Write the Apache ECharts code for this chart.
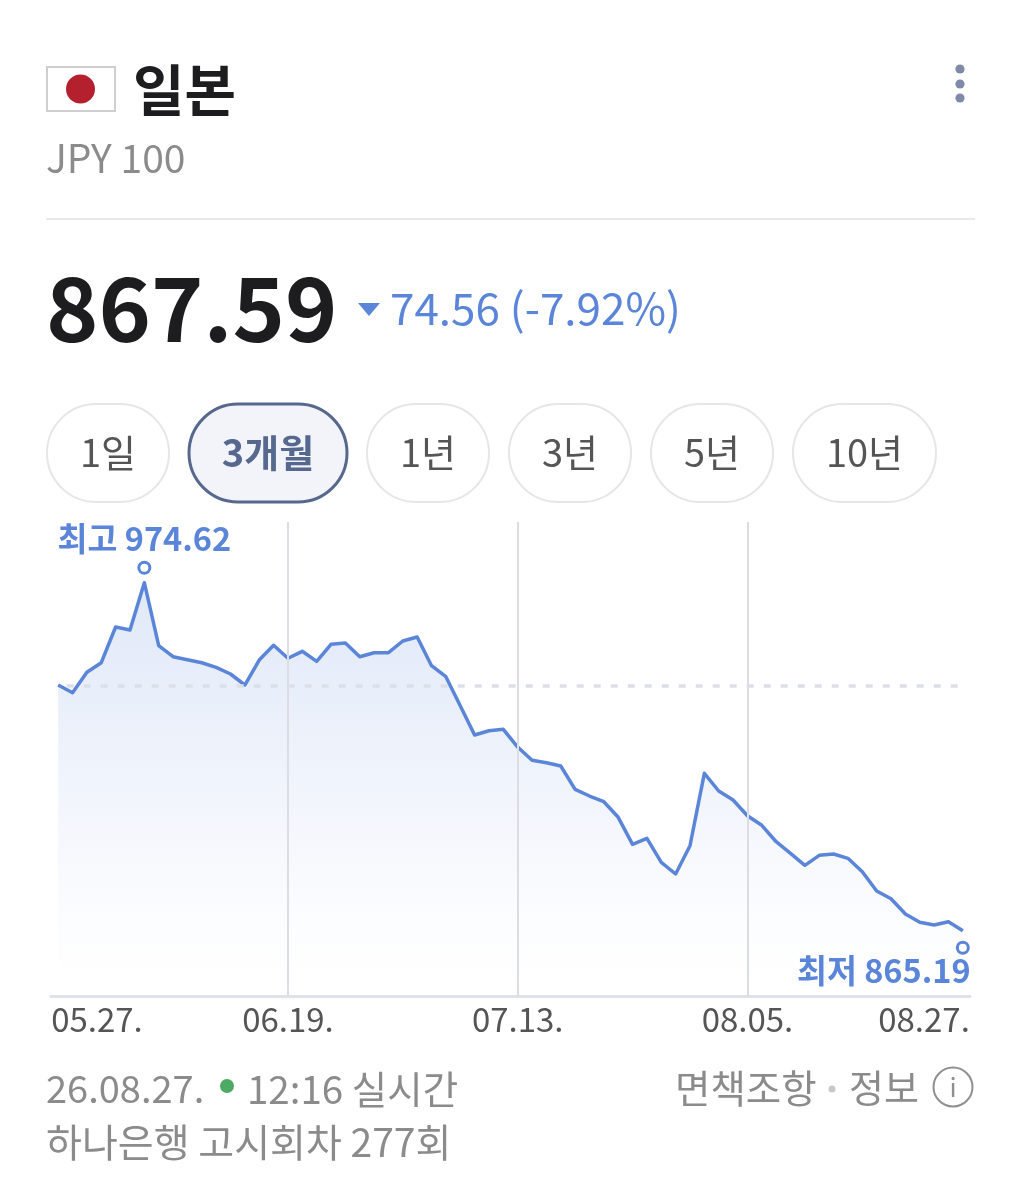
<!DOCTYPE html>
<html><head><meta charset="utf-8">
<style>html,body{margin:0;padding:0;background:#fff}#c{width:1021px;height:1200px}</style>
<script src="https://cdn.jsdelivr.net/npm/echarts@6/dist/echarts.min.js"></script>
</head><body><div id="c"></div>
<script>
const dates = ['05.27.','05.28.','05.29.','05.30.','05.31.','06.01.','06.02.','06.03.','06.04.','06.05.','06.06.','06.07.','06.08.','06.09.','06.10.','06.11.','06.19.','06.20.','06.21.','06.22.','06.23.','06.24.','06.25.','06.26.','06.27.','06.28.','06.29.','06.30.','07.01.','07.02.','07.03.','07.04.','07.13.','07.14.','07.15.','07.16.','07.17.','07.18.','07.19.','07.20.','07.21.','07.22.','07.23.','07.24.','07.25.','07.26.','07.27.','07.28.','08.05.','08.06.','08.07.','08.08.','08.09.','08.10.','08.11.','08.12.','08.13.','08.14.','08.15.','08.16.','08.17.','08.18.','08.19.','08.27.'];
const rates = [942.45,940.03,946.44,949.46,960.69,959.75,974.62,954.81,951.35,950.41,949.46,948.02,945.91,942.45,950.31,954.93,950.85,953.05,949.90,955.25,955.66,951.35,952.61,952.61,956.29,957.54,948.52,945.06,935.94,926.73,928.08,928.52,922.95,918.77,918.02,916.98,909.65,907.54,905.75,900.85,892.36,894.24,886.70,883.02,891.92,914.68,909.12,906.29,901.35,898.33,893.17,889.53,885.75,888.90,889.31,887.95,883.74,877.67,875.25,870.44,867.83,866.98,868.02,865.19];
const tickLabels = ['05.27.','06.19.','07.13.','08.05.','08.27.'];
const gridDates = ['06.19.','07.13.','08.05.'];
const previousClose = 942.15;
const highValue = 974.62, lowValue = 865.19;
const ranges = ['1일','3개월','1년','3년','5년','10년'];

const KR = '"Noto Sans CJK KR","Noto Sans",sans-serif';
const BLUE = '#5a85d8';
const GRAY = '#8b8b8b';
function txt(x,y,text,size,fill,weight,align){
  return {type:'text',x,y,style:{text,fontFamily:KR,fontSize:size,fontWeight:weight||400,fill,align:align||'left',verticalAlign:'middle'}};
}
const btnBoxes = [[46,124],[188,160],[366,124],[508,124],[650,124],[792,145]];
const graphics = [
  {type:'rect',shape:{x:47,y:67,width:68,height:44},style:{fill:'#fff',stroke:'#cfcfcf',lineWidth:2}},
  {type:'circle',shape:{cx:80.5,cy:89,r:14.5},style:{fill:'#b5202f'}},
  txt(133,90,'일본',56,'#1d1d1f',700),
  txt(46,158,'JPY 100',39,GRAY),
  {type:'circle',shape:{cx:960,cy:69,r:4.6},style:{fill:'#7f8aa8'}},
  {type:'circle',shape:{cx:960,cy:84,r:4.6},style:{fill:'#7f8aa8'}},
  {type:'circle',shape:{cx:960,cy:98,r:4.6},style:{fill:'#7f8aa8'}},
  {type:'line',shape:{x1:46,y1:219,x2:975,y2:219},style:{stroke:'#e9e9e9',lineWidth:2}},
  txt(46,308,'867.59',89,'#1d1d1f',700),
  {type:'polygon',shape:{points:[[358,303],[380,303],[369,316]]},style:{fill:BLUE}},
  txt(390,308,'74.56 (-7.92%)',44,BLUE),
  txt(46,1089,'26.08.27.',38,GRAY),
  {type:'circle',shape:{cx:227,cy:1086,r:7},style:{fill:'#4caa64'}},
  txt(247,1089,'12:16 실시간',38.5,GRAY),
  txt(46,1142,'하나은행 고시회차 277회',39,GRAY),
  txt(675,1088,'면책조항',38.5,GRAY),
  {type:'circle',shape:{cx:832,cy:1089,r:3.5},style:{fill:'#c9c9c9'}},
  txt(849,1088,'정보',38,GRAY),
  {type:'circle',shape:{cx:953,cy:1087,r:19.5},style:{fill:'#fff',stroke:'#8f8f8f',lineWidth:2}},
  txt(953,1087,'i',26,'#8f8f8f',400,'center')
];
ranges.forEach((r,i)=>{
  const [x,w]=btnBoxes[i], on=i===1;
  graphics.push({type:'rect',shape:{x:x+1,y:404,width:w-2,height:98,r:49},
    style:{fill:on?'#f2f4fa':'#fff',stroke:on?'#56688e':'#e6e6e6',lineWidth:on?3:2}});
  graphics.push(txt(x+w/2,453,r,38,on?'#56688e':'#555',on?700:400,'center'));
});

const chart = echarts.init(document.getElementById('c'),null,{renderer:'canvas',width:1021,height:1200});
chart.setOption({
  animation:false,
  backgroundColor:'#fff',
  textStyle:{fontFamily:KR},
  grid:{left:51,right:51,top:522,height:474,containLabel:false},
  xAxis:{type:'category',data:dates,boundaryGap:true,
    axisLine:{lineStyle:{color:'#dfe2ea',width:3}},axisTick:{show:false},splitLine:{show:false},
    axisLabel:{margin:7,fontSize:33,fontWeight:400,color:'#555',fontFamily:KR,hideOverlap:false,
      interval:(i,v)=>tickLabels.includes(v),alignMinLabel:'left',alignMaxLabel:'right',padding:[0,-7,0,-7]}},
  yAxis:{type:'value',min:844.66,max:993.71,show:false,splitLine:{show:false}},
  series:[{
    type:'line',data:rates,smooth:false,symbol:'none',
    lineStyle:{color:BLUE,width:3.5,join:'round'},
    areaStyle:{origin:'start',color:new echarts.graphic.LinearGradient(0,0,0,1,[
      {offset:0,color:'rgba(91,134,217,0.27)'},{offset:0.85,color:'rgba(91,134,217,0.02)'},{offset:1,color:'rgba(91,134,217,0)'}])},
    markLine:{silent:true,symbol:'none',label:{show:false},animation:false,data:[
      ...gridDates.map(d=>({xAxis:d,lineStyle:{color:'#dcdde2',width:2,type:'solid'}})),
      [{coord:[0,previousClose],lineStyle:{color:'#dcdfe8',width:3.5,type:[7,10],dashOffset:8.5}},{coord:[dates.length-1,previousClose]}]
    ]},
    markPoint:{silent:true,animation:false,data:[
      {coord:[rates.indexOf(highValue),highValue],symbol:'circle',symbolSize:11,symbolOffset:[0,-15],
       itemStyle:{color:'#fff',borderColor:BLUE,borderWidth:3},
       label:{show:true,position:'top',distance:6,formatter:'최고 '+highValue.toFixed(2),fontFamily:KR,fontSize:32.5,fontWeight:700,color:BLUE}},
      {coord:[rates.indexOf(lowValue),lowValue],symbol:'circle',symbolSize:11,symbolOffset:[0,17],
       itemStyle:{color:'#fff',borderColor:BLUE,borderWidth:3},
       label:{show:true,position:'inside',offset:[-79,23],formatter:'최저 '+lowValue.toFixed(2),fontFamily:KR,fontSize:32.5,fontWeight:700,color:BLUE}}
    ]}
  }],
  graphic:graphics
});
</script></body></html>
